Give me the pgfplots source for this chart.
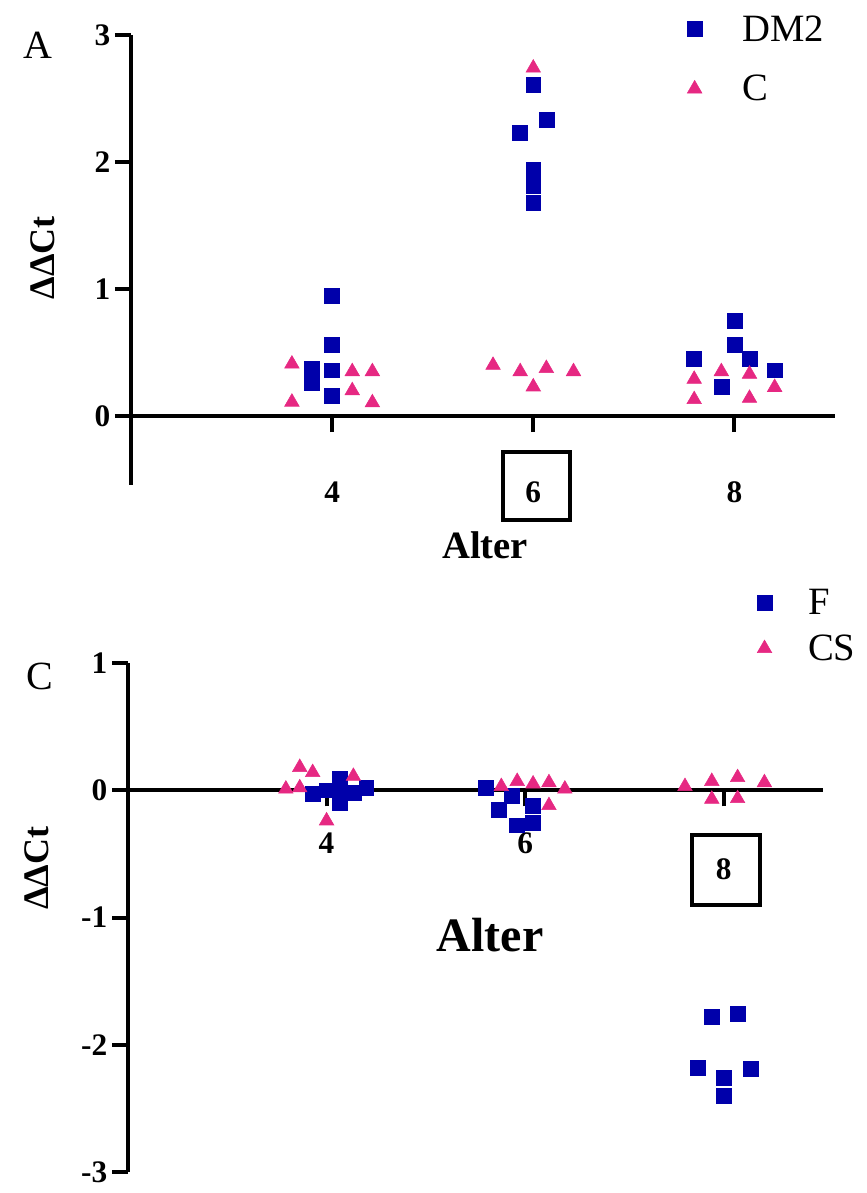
\documentclass[border=0pt]{standalone}
\usepackage{fontspec}
\setmainfont{Liberation Serif}
\usepackage{pgfplots}
\pgfplotsset{compat=1.18}
\definecolor{dmblue}{RGB}{0,0,170}
\definecolor{cpink}{RGB}{230,40,130}

\pgfplotstableread{
x y
4 0.95
4 0.56
3.8 0.37
3.8 0.26
4 0.36
4 0.16
6 2.61
6.13 2.33
5.87 2.23
6 1.94
6 1.81
6 1.68
8 0.75
8 0.56
8.15 0.45
7.6 0.45
7.87 0.23
8.4 0.36
}\dmtwo
\pgfplotstableread{
x y
3.6 0.41
3.6 0.11
4.2 0.35
4.2 0.20
4.4 0.35
4.4 0.105
6 2.74
5.6 0.40
5.87 0.35
6 0.23
6.13 0.375
6.4 0.35
7.6 0.29
7.6 0.13
7.87 0.35
8.15 0.33
8.15 0.14
8.4 0.226
}\cgroup
\pgfplotstableread{
x y
3.86 -0.03
4.0 0.0
4.13 0.087
4.13 0.008
4.13 -0.097
4.27 -0.02
4.4 0.02
5.6 0.02
5.87 -0.045
5.73 -0.155
6.08 -0.12
5.92 -0.275
6.08 -0.255
7.88 -1.78
8.14 -1.756
7.74 -2.18
8.0 -2.26
8.0 -2.40
8.27 -2.19
}\fgroup
\pgfplotstableread{
x y
3.73 0.18
3.86 0.14
3.59 0.01
3.73 0.02
4.27 0.11
4.0 -0.24
5.76 0.03
5.92 0.07
6.08 0.05
6.24 0.06
6.4 0.01
6.24 -0.12
7.61 0.03
7.88 0.07
7.88 -0.07
8.14 0.10
8.14 -0.065
8.41 0.06
}\csgroup

\pgfplotsset{
 common/.style={
  scale only axis, clip=false,
  axis x line=middle, axis y line=left,
  axis line style={-, line width=3pt},
  xmin=2, xmax=9,
  xtick align=outside, ytick align=outside,
  tick style={line width=3pt, black},
  major tick length=12pt,
  tick label style={font=\fontsize{23.5}{25}\selectfont\bfseries},
  label style={font=\fontsize{29}{32}\selectfont\bfseries},
  legend style={draw=none, fill=none, font=\fontsize{29}{32}\selectfont, column sep=28pt},
  legend cell align=left,
  legend image code/.code={\draw[##1] plot coordinates {(0pt,0pt)};},
 },
 dm/.style={only marks, mark=square*, mark size=5.6pt, color=dmblue},
 cc/.style={only marks, mark=triangle*, mark size=6.3pt, color=cpink},
}

\begin{document}
\begin{tikzpicture}[x=0.75pt,y=0.75pt]
\useasboundingbox (0,0) rectangle (867,1193);
% Panel A
\begin{axis}[common,
  at={(98.25pt,531.3pt)}, anchor=south west,
  width=528pt, height=337.2pt,
  ymin=-0.54, ymax=3, ytick={0,1,2,3}, yticklabels={0,1,2,3},
  xtick={4,6,8}, xticklabels={4,6,8},
  xticklabel style={anchor=center, yshift=-45pt},
  xlabel={Alter}, ylabel={ΔΔCt},
  xlabel style={at={(axis description cs:0.503,-0.1343)}, anchor=center},
  ylabel style={at={(axis description cs:-0.1257,0.504)}, anchor=center, font=\fontsize{27}{30}\selectfont\bfseries},
  legend style={at={(axis description cs:0.784,1.056)}, anchor=north west, row sep=20pt},
]
\addplot[dm] table {\dmtwo};
\addlegendentry{DM2}
\addplot[cc] table {\cgroup};
\addlegendentry{C}
\end{axis}
% Panel C
\begin{axis}[common,
  at={(96pt,15.75pt)}, anchor=south west,
  width=521.25pt, height=381.75pt,
  ymin=-3, ymax=1, ytick={-3,-2,-1,0,1}, yticklabels={-3,-2,-1,0,1},
  xtick={4,6}, xticklabels={4,6},
  extra x ticks={8}, extra x tick labels={8},
  xticklabel style={anchor=center, yshift=-28pt},
  extra x tick style={xticklabel style={yshift=-19pt}},
  xlabel={Alter}, ylabel={ΔΔCt},
  xlabel style={at={(axis description cs:0.521,0.4656)}, anchor=center, font=\fontsize{36}{39}\selectfont\bfseries},
  ylabel style={at={(axis description cs:-0.131,0.597)}, anchor=center, font=\fontsize{27}{30}\selectfont\bfseries},
  legend style={at={(axis description cs:0.899,1.157)}, anchor=north west, row sep=10pt, column sep=25pt},
]
\addplot[dm] table {\fgroup};
\addlegendentry{F}
\addplot[cc] table {\csgroup};
\addlegendentry{CS}
\end{axis}
\draw[line width=2.4pt] (503,741) rectangle (570,673);
\draw[line width=2.4pt] (692,358) rectangle (760,288);
\node[font=\fontsize{30}{32}\selectfont] at (38,1148) {A};
\node[font=\fontsize{30}{32}\selectfont] at (40,517) {C};
\end{tikzpicture}
\end{document}
